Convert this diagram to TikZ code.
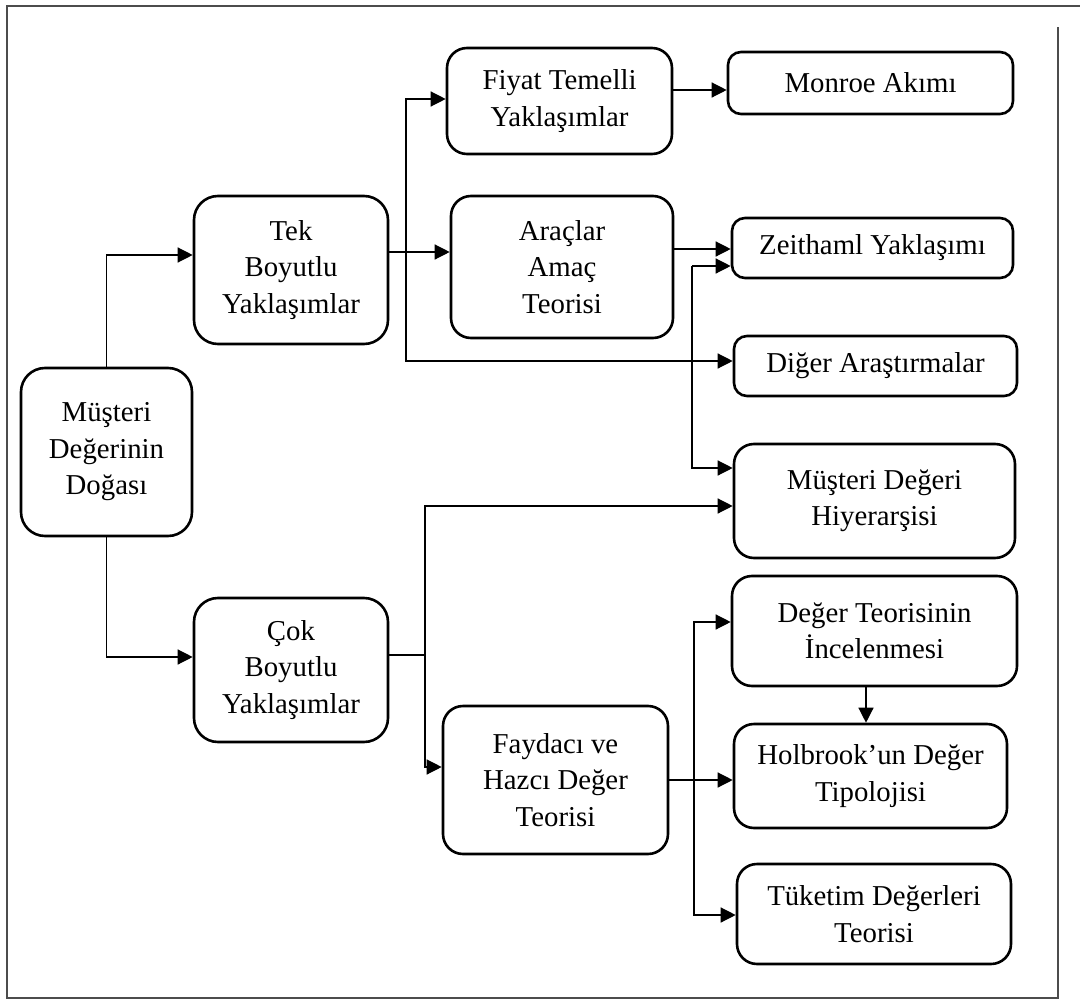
\documentclass[tikz,border=0pt]{standalone}
\usepackage{fontspec}
\setmainfont{Liberation Serif}
\usetikzlibrary{arrows.meta}
\begin{document}
\begin{tikzpicture}[x=1pt,y=-1pt,
  box/.style={draw, line width=2.6pt, rounded corners=#1, align=center,
    inner sep=0pt, font=\fontsize{28.8}{36.5}\selectfont},
  conn/.style={line width=1.3pt, -{Triangle[length=15pt,width=15pt]}},
  wire/.style={line width=1.3pt},
  frame/.style={line width=1.6pt, draw=black!70}]
\useasboundingbox (0,0) rectangle (1080,1001);
% outer frame
\draw[frame] (1080,6) -- (7,6) -- (7,998) -- (1058,998) -- (1058,27);

% boxes
\node[box=24pt, minimum width=171pt, minimum height=168pt] (root) at (106.5,452) {Müşteri\\Değerinin\\Doğası};
\node[box=24pt, minimum width=194pt, minimum height=148pt] (tek) at (291,270) {Tek\\Boyutlu\\Yaklaşımlar};
\node[box=24pt, minimum width=194pt, minimum height=144pt] (cok) at (291,670) {Çok\\Boyutlu\\Yaklaşımlar};
\node[box=20pt, minimum width=225pt, minimum height=106pt] (fiyat) at (559.5,101) {Fiyat Temelli\\Yaklaşımlar};
\node[box=20pt, minimum width=222pt, minimum height=142pt] (araclar) at (562,267) {Araçlar\\Amaç\\Teorisi};
\node[box=20pt, minimum width=225pt, minimum height=148pt] (faydaci) at (555.5,780) {Faydacı ve\\Hazcı Değer\\Teorisi};
\node[box=13pt, minimum width=285pt, minimum height=62pt] (monroe) at (870.5,83) {Monroe Akımı};
\node[box=13pt, minimum width=281pt, minimum height=60pt] (zeithaml) at (872.5,248) {Zeithaml Yaklaşımı};
\node[box=13pt, minimum width=283pt, minimum height=60pt] (diger) at (875.5,366) {Diğer Araştırmalar};
\node[box=20pt, minimum width=281pt, minimum height=114pt] (mdh) at (874.5,501) {Müşteri Değeri\\Hiyerarşisi};
\node[box=20pt, minimum width=285pt, minimum height=110pt] (dti) at (874.5,631) {Değer Teorisinin\\İncelenmesi};
\node[box=20pt, minimum width=273pt, minimum height=104pt] (holbrook) at (870.5,776) {Holbrook’un Değer\\Tipolojisi};
\node[box=20pt, minimum width=274pt, minimum height=100pt] (tuketim) at (874,914) {Tüketim Değerleri\\Teorisi};

% helper levels and bus points
\coordinate (r1) at (0,255);
\coordinate (r2) at (0,657);
\coordinate (a1) at (0,252);
\coordinate (f1) at (0,99);
\coordinate (d1) at (0,361);
\coordinate (m1) at (0,90);
\coordinate (z1) at (0,249);
\coordinate (h1) at (0,468);
\coordinate (h2) at (0,506);
\coordinate (h3) at (0,767);
\coordinate (t1) at (0,622);
\coordinate (t2) at (0,915);
\coordinate (v1) at (866,0);
\coordinate (bus1) at (406,252);
\coordinate (bus2) at (425,655);
\coordinate (bus3) at (692,266);
\coordinate (bus4) at (694,780);

% root branches
\draw[conn] (root.north) |- (tek.west |- r1);
\draw[conn] (root.south) |- (cok.west |- r2);

% single-dimension branch
\draw[conn] (tek.east |- a1) -- (araclar.west |- a1);
\draw[conn] (bus1) |- (fiyat.west |- f1);
\draw[conn] (bus1) |- (diger.west |- d1);
\draw[conn] (fiyat.east |- m1) -- (monroe.west |- m1);
\draw[conn] (araclar.east |- z1) -- (zeithaml.west |- z1);
\draw[conn] (bus3) -- (zeithaml.west |- bus3);
\draw[conn] (bus3) |- (mdh.west |- h1);

% multi-dimension branch
\draw[wire] (cok.east |- bus2) -- (bus2);
\draw[conn] (bus2) |- (mdh.west |- h2);
\draw[conn] (bus2) |- (faydaci.west |- h3);
\draw[conn] (faydaci.east) -- (holbrook.west |- faydaci.east);
\draw[conn] (bus4) |- (dti.west |- t1);
\draw[conn] (bus4) |- (tuketim.west |- t2);
\draw[conn] (dti.south -| v1) -- (holbrook.north -| v1);
\end{tikzpicture}
\end{document}
